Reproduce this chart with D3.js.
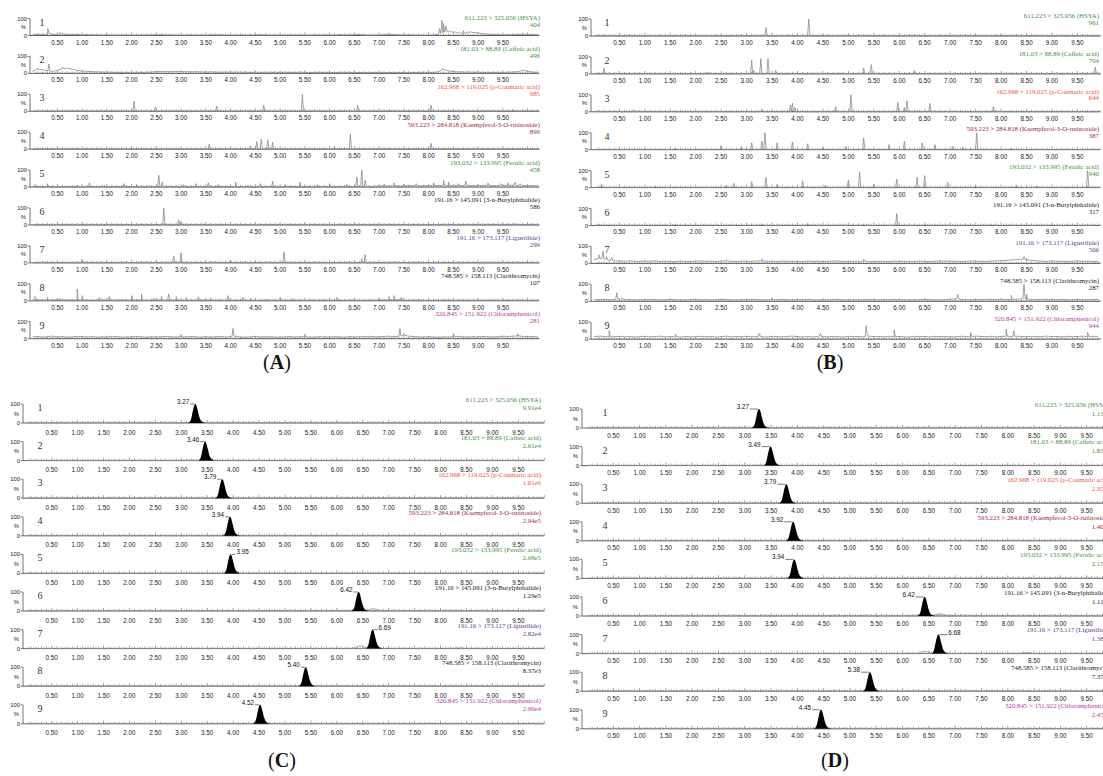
<!DOCTYPE html>
<html><head><meta charset="utf-8">
<script src="https://cdn.jsdelivr.net/npm/d3@7"></script>
<style>body{margin:0;background:#fff;}svg{display:block}</style>
</head><body>
<svg id="c" width="1103" height="776"></svg>
<script>
// ---------------- DATA ----------------
const tickLabels = ["0.50","1.00","1.50","2.00","2.50","3.00","3.50","4.00","4.50","5.00","5.50","6.00","6.50","7.00","7.50","8.00","8.50","9.00","9.50"];
const compoundLabels = [
  "611.223 > 325.056 (HSYA)",
  "181.03 > 88.89 (Caffeic acid)",
  "162.968 > 119.025 (p-Coumaric acid)",
  "593.223 > 284.818 (Kaempferol-3-O-rutinoside)",
  "193.032 > 133.995 (Ferulic acid)",
  "191.16 > 145.091 (3-n-Butylphthalide)",
  "191.16 > 173.117 (Ligustilide)",
  "748.585 > 158.113 (Clarithromycin)",
  "320.845 > 151.922 (Chloramphenicol)"
];
const rowNumbers = ["1","2","3","4","5","6","7","8","9"];
const intensityA = ["404","496","985","899","458","586","299","107","281"];
const intensityB = ["961","704","644","387","940","317","506","287","944"];
const intensityC = ["9.91e4","2.61e4","1.01e6","2.94e5","2.68e5","1.29e5","2.82e4","8.37e3","2.99e4"];
const intensityD = ["1.13e4","1.83e4","2.35e5","1.40e5","2.15e5","1.11e5","1.38e4","7.37e3","2.45e4"];

// spikes: [retention time (min), relative intensity (%)]
const spikesA = [
  [[0.31,40],[0.36,15],[0.55,18],[2.45,6],[6.5,8],[7.15,12],[7.2,15],[8.22,40],[8.27,90],[8.3,70],[8.35,55],[8.42,30],[8.55,22],[8.62,20],[8.7,28],[8.78,22],[8.85,25],[9.8,8],[9.9,10]],
  [[0.1,30],[0.33,55],[0.6,35],[8.28,30],[9.88,20]],
  [[0.1,3],[0.8,3],[2.05,60],[2.48,25],[3.72,30],[4.67,35],[5.45,100],[6.57,35],[7.2,8],[7.22,6],[8.05,35],[9.7,10]],
  [[0.5,3],[2.6,4],[3.57,30],[4.4,20],[4.53,45],[4.62,60],[4.75,55],[4.85,40],[5.05,5],[6.1,15],[6.42,90],[7.2,5],[8.05,35],[9.2,5]],
  [[0.05,15],[0.3,20],[0.5,8],[0.9,12],[1.15,25],[1.45,10],[1.85,20],[2.1,15],[2.35,10],[2.55,70],[2.62,30],[3.05,15],[3.3,20],[3.55,25],[3.75,15],[4.1,30],[4.35,12],[4.6,20],[4.85,35],[5.1,15],[5.4,30],[5.75,15],[6.0,20],[6.35,15],[6.55,60],[6.65,100],[6.72,40],[7.1,20],[7.3,25],[7.5,15],[7.75,20],[8.1,25],[8.3,40],[8.4,30],[8.6,20],[8.75,35],[9.0,15],[9.2,25],[9.45,20],[9.6,25],[9.75,30],[9.85,20]],
  [[0.3,3],[1.2,4],[2.65,100],[2.95,30],[3.0,20],[4.5,4],[5.1,3],[6.7,3],[9.6,8],[9.75,10]],
  [[0.2,5],[1.0,20],[1.9,8],[2.5,10],[2.85,40],[3.0,60],[3.7,6],[4.0,15],[4.8,5],[5.08,65],[6.65,25],[6.72,50],[7.3,6],[8.2,5],[9.5,6]],
  [[0.05,25],[0.3,20],[0.55,15],[0.9,70],[1.0,30],[1.35,20],[1.55,25],[2.0,30],[2.2,40],[2.45,15],[2.6,25],[2.75,40],[2.9,25],[3.1,20],[3.35,25],[3.6,15],[3.95,30],[4.25,20],[4.4,15],[4.75,10],[5.0,20],[5.25,15],[5.6,10],[6.15,20],[6.5,10],[7.0,15],[7.2,25],[7.3,30],[7.45,20],[7.8,10],[8.3,10],[9.0,8],[9.5,8]],
  [[3.0,25],[4.05,60],[5.5,25],[7.42,60],[7.5,30],[8.5,30],[9.8,30]]
];
// baseline noise (%), sampled every 0.1 min from 0.0
const noiseA = [
  [6,8,5,9,7,6,10,6,5,7,4,5,3,3,2,3,2,2,2,3,2,2,2,3,3,4,5,3,3,2,2,2,3,2,2,2,3,4,3,2,2,2,3,2,2,3,4,3,2,2,2,2,3,2,3,2,2,3,2,3,3,2,4,3,3,5,6,3,2,2,3,4,6,5,3,3,4,2,2,2,2,3,8,20,25,20,15,12,14,18,15,10,8,6,5,4,4,5,6,8,6,5,4],
  [12,25,22,15,12,18,28,30,25,18,14,12,10,9,8,7,7,6,6,6,6,7,6,7,8,10,12,11,10,12,11,10,9,10,9,8,9,8,7,8,7,8,7,7,6,7,6,7,6,7,6,7,6,6,7,6,5,6,7,6,6,5,6,7,6,6,5,6,6,5,6,6,5,6,5,6,6,5,6,7,6,6,10,22,15,10,9,8,8,7,7,6,6,6,6,6,7,8,10,18,12,8,6],
  null,
  null,
  [4,3,2,3,2,3,2,2,3,2,2,3,2,2,3,2,2,3,2,2,3,2,2,3,2,2,3,2,3,2,2,3,2,2,3,2,2,3,2,2,3,2,3,2,2,3,2,2,3,2,2,3,2,3,2,2,3,2,2,3,2,3,2,2,3,2,3,2,2,3,6,8,5,9,7,6,10,8,6,9,7,10,8,12,9,7,11,8,10,9,7,10,12,8,9,11,10,12,9,10,8,9,7],
  null,
  null,
  [6,5,4,5,4,6,5,4,5,4,5,4,3,4,5,4,3,4,5,4,4,5,4,3,4,5,4,3,4,5,4,3,4,3,4,5,4,3,4,3,4,3,4,3,4,3,3,4,3,4,3,4,3,3,4,3,4,3,3,4,3,3,4,3,3,4,3,3,4,3,4,5,4,6,5,4,3,3,4,3,3,4,3,3,4,3,3,4,3,3,4,3,3,4,3,3,4,3,3,4,3,3,4],
  [10,14,9,12,15,10,13,9,11,14,12,10,13,9,11,10,14,12,9,11,10,13,11,9,12,10,12,14,11,10,12,10,13,11,9,12,10,11,13,10,12,14,10,9,11,13,10,12,11,10,9,11,13,10,12,11,9,10,12,11,10,12,11,9,13,10,12,11,14,12,11,13,15,12,14,20,15,12,11,10,12,10,9,11,10,12,14,11,10,12,11,13,12,10,12,14,13,15,16,14,12,13,11]
];
const spikesB = [
  [[0.1,6],[3.38,50],[3.85,6],[4.22,100],[7.05,4],[8.3,8]],
  [[0.2,35],[2.2,8],[2.25,10],[3.1,80],[3.14,20],[3.28,90],[3.42,90],[3.57,20],[5.0,5],[5.3,35],[5.45,55],[6.3,20],[9.85,40]],
  [[0.05,5],[0.5,4],[0.78,12],[3.3,15],[3.86,40],[3.9,50],[3.95,25],[4.75,30],[5.05,100],[5.97,55],[6.1,25],[6.15,65],[6.35,8],[6.6,50],[7.85,30],[8.6,5]],
  [[1.6,10],[2.5,25],[2.9,20],[3.1,40],[3.3,50],[3.36,100],[3.6,40],[3.9,45],[4.2,35],[4.5,15],[4.95,20],[5.3,70],[5.8,30],[6.1,50],[6.45,40],[6.7,30],[7.05,20],[7.25,15],[7.52,100],[8.2,10]],
  [[0.15,20],[1.2,8],[2.6,15],[2.75,25],[3.1,35],[3.38,60],[3.6,20],[4.1,40],[4.55,15],[5.0,45],[5.22,90],[5.5,20],[5.95,50],[6.35,60],[6.5,70],[6.95,30],[7.5,10],[8.3,15],[8.7,10],[9.7,100]],
  [[0.1,5],[1.6,8],[3.3,10],[4.2,12],[5.3,8],[5.95,70],[6.5,8],[7.8,5],[9.0,5]],
  [[0.1,50],[0.18,70],[0.25,40],[0.35,35],[2.6,20],[3.3,25],[5.3,25],[6.8,20],[8.45,40],[8.5,30]],
  [[0.45,50],[0.55,20],[3.5,20],[4.8,15],[7.15,40],[8.2,35],[8.45,100],[8.5,40]],
  [[0.3,50],[1.6,30],[3.25,35],[4.45,35],[5.35,80],[5.9,55],[7.4,40],[8.1,60],[8.25,50],[9.7,40]]
];
const noiseB = [
  null, null, null, null, null, null,
  [20,30,25,18,15,14,12,16,13,11,14,12,15,11,13,12,10,14,12,11,13,15,12,14,11,13,16,12,11,14,13,12,15,14,12,13,11,14,12,13,12,11,14,12,13,11,12,14,13,12,11,13,12,14,12,11,13,12,11,14,12,13,11,12,14,12,11,13,12,14,12,13,11,12,14,12,13,11,14,15,16,18,20,22,25,20,18,15,13,12,14,12,13,11,12,14,12,13,11,12],
  [8,10,12,9,11,10,9,11,8,10,9,11,10,8,9,11,10,9,8,10,11,9,10,8,9,11,10,9,8,10,9,11,10,9,8,10,9,11,10,8,9,10,11,9,8,10,9,11,10,9,8,10,9,10,11,9,8,10,9,11,10,9,8,10,9,11,10,9,8,10,12,14,11,10,9,11,10,12,11,10,12,11,10,12,14,12,11,10,12,11,10,9,11,10,9,11,10,9,11,10],
  [14,18,16,13,15,17,14,16,13,15,17,14,16,18,14,15,17,13,16,14,15,17,14,16,13,15,18,14,16,15,17,14,16,15,13,17,15,14,16,18,15,14,16,13,17,15,14,16,15,13,17,15,16,14,18,15,16,14,17,15,16,14,13,17,15,16,14,17,15,16,14,15,17,16,14,18,16,15,17,14,16,18,15,17,16,14,17,15,16,18,15,16,14,17,15,16,18,15,17,16]
];
// LC-MS/MS peaks of the standards (retention time, min)
const peakRtC = [3.27,3.46,3.79,3.94,3.95,6.42,6.69,5.40,4.52];
const peakRtD = [3.27,3.49,3.79,3.92,3.94,6.42,6.68,5.38,4.45];
// small unresolved humps [rt, %]
const humpsC = [[],[[3.2,2]],[],[],[],[[6.7,12]],[[6.45,14],[8.35,3]],[],[]];
const humpsD = [[],[[3.3,2]],[],[],[],[[6.7,12]],[[6.42,12],[8.35,5]],[],[]];
// shape of a chromatographic peak: [offset (min), fraction of apex]
const peakProfile = [[-0.15,0],[-0.11,0.05],[-0.08,0.22],[-0.05,0.6],[-0.02,0.93],[0,1],[0.02,0.93],[0.05,0.62],[0.08,0.3],[0.11,0.12],[0.15,0.04],[0.2,0]];

// ---------------- STYLE / LAYOUT ----------------
const labelColors = ["#3f8f3f","#3f8f3f","#ef5248","#a3283a","#3f8f3f","#222222","#5e3d8e","#222222","#b4399e"];
const serif = "'Liberation Serif','Times New Roman',serif";
const sans = "'Liberation Sans',Arial,sans-serif";
const layouts = {
  A:{x0:32.6,ppu:49.5,tMax:10.24,yAxisX:30,base0:35.5,pitch:37.9,h:17,labelRight:540,numX:42,tickDy:9,labelDy:-22.6,intDy:-15.6,firstShift:7,letterX:277,letterY:369,lead:5},
  B:{x0:593.9,ppu:50.9,tMax:9.95,yAxisX:591,base0:36,pitch:37.9,h:17,labelRight:1099,numX:607,tickDy:8.9,labelDy:-18.3,intDy:-11.4,firstShift:0,letterX:830,letterY:369,lead:5},
  C:{x0:25.8,ppu:51.84,tMax:10.0,yAxisX:23,base0:423,pitch:37.6,h:19,labelRight:541,numX:40,tickDy:11.5,labelDy:-21.1,intDy:-13.1,firstShift:0,letterX:282,letterY:767,lead:5},
  D:{x0:587,ppu:52.6,tMax:10.2,yAxisX:582,base0:428,pitch:37.6,h:19,labelRight:1110,numX:605,tickDy:9.6,labelDy:-21.3,intDy:-12.3,firstShift:0,letterX:835,letterY:767,lead:9}
};
const peakLabelSideC = ["l","l","l","l","r","l","r","l","l"];
const peakLabelSideD = ["l","l","l","l","l","l","r","l","l"];

const svg = d3.select("#c");

function drawFrame(g, L, x, y, base, i, intensityText) {
  const x1 = x.range()[1];
  g.append("line").attr("x1",L.yAxisX).attr("x2",x1).attr("y1",base).attr("y2",base)
    .attr("stroke","#3a3a3a").attr("stroke-width",0.8);
  const minor = d3.range(1, Math.floor(L.tMax*20)+1).map(k=>k/20);
  g.append("g").selectAll("line").data(minor).join("line")
    .attr("x1",d=>x(d)).attr("x2",d=>x(d)).attr("y1",base)
    .attr("y2",d=>base - (Math.abs(d*2-Math.round(d*2))<1e-6 ? 3 : (Math.abs(d*10-Math.round(d*10))<1e-6 ? 2 : 1.3)))
    .attr("stroke","#3a3a3a").attr("stroke-width",0.5);
  g.append("g").selectAll("text").data(tickLabels).join("text")
    .attr("x",d=>x(+d)).attr("y",base+L.tickDy).attr("text-anchor","middle")
    .attr("font-family",sans).attr("font-size",6.3).attr("fill","#222").text(d=>d);
  g.append("line").attr("x1",L.yAxisX).attr("x2",L.yAxisX).attr("y1",base).attr("y2",y(100))
    .attr("stroke","#3a3a3a").attr("stroke-width",0.7);
  [0,100].forEach(v=>g.append("line").attr("x1",L.yAxisX-2.5).attr("x2",L.yAxisX).attr("y1",y(v)).attr("y2",y(v))
    .attr("stroke","#3a3a3a").attr("stroke-width",0.6));
  g.append("text").attr("x",L.yAxisX-3).attr("y",y(100)+2).attr("text-anchor","end")
    .attr("font-family",sans).attr("font-size",5.8).attr("fill","#222").text("100");
  g.append("text").attr("x",L.yAxisX-4).attr("y",y(50)+2).attr("text-anchor","end")
    .attr("font-family",sans).attr("font-size",5.8).attr("fill","#222").text("%");
  g.append("text").attr("x",L.yAxisX-3).attr("y",y(0)+2).attr("text-anchor","end")
    .attr("font-family",sans).attr("font-size",5.8).attr("fill","#222").text("0");
  g.append("text").attr("x",L.numX).attr("y",y(100)+7).attr("text-anchor","middle")
    .attr("font-family",serif).attr("font-size",10).attr("fill","#333").text(rowNumbers[i]);
  const shift = i===0 ? L.firstShift : 0;
  g.append("text").attr("x",L.labelRight).attr("y",base+L.labelDy+shift).attr("text-anchor","end")
    .attr("font-family",serif).attr("font-size",6.8).attr("fill",labelColors[i]).text(compoundLabels[i]);
  g.append("text").attr("x",L.labelRight).attr("y",base+L.intDy+shift).attr("text-anchor","end")
    .attr("font-family",serif).attr("font-size",6.8).attr("fill",labelColors[i]).text(intensityText);
}

function drawLetter(L, key) {
  svg.append("text").attr("x",L.letterX).attr("y",L.letterY).attr("text-anchor","middle")
    .attr("font-family",serif).attr("font-size",20).attr("fill","#111")
    .html(`(<tspan font-weight="bold">${key}</tspan>)`);
}

function drawNoisePanel(key, spikes, noise, intensity) {
  const L = layouts[key];
  const g = svg.append("g");
  const x = d3.scaleLinear().domain([0,L.tMax]).range([L.x0, L.x0+L.tMax*L.ppu]);
  for (let i=0;i<9;i++) {
    const base = L.base0 + i*L.pitch;
    const y = d3.scaleLinear().domain([0,100]).range([base, base-L.h]);
    const rg = g.append("g");
    drawFrame(rg, L, x, y, base, i, intensity[i]);
    const nz = noise[i];
    const baseAt = t => {
      if (!nz) return 1;
      const k = t*10, k0 = Math.max(0, Math.min(nz.length-1, Math.floor(k)));
      const v0 = nz[k0], v1 = nz[Math.min(nz.length-1, k0+1)];
      return v0 + (v1-v0)*(k-k0);
    };
    let pts = nz ? nz.map((v,k)=>[k/10, v]).filter(p=>p[0]<=L.tMax) : [[0,1],[L.tMax,1]];
    spikes[i].forEach(([t,h])=>{ pts.push([t-0.022,baseAt(t-0.022)],[t,h],[t+0.022,baseAt(t+0.022)]); });
    pts.sort((a,b)=>a[0]-b[0]);
    const line = d3.line().x(d=>x(d[0])).y(d=>y(d[1]));
    rg.append("path").attr("d",line(pts)).attr("fill","none")
      .attr("stroke","#8a8a8a").attr("stroke-width",0.8);
  }
  drawLetter(L, key);
}

function drawPeakPanel(key, rts, humps, intensity, sides) {
  const L = layouts[key];
  const g = svg.append("g");
  const x = d3.scaleLinear().domain([0,L.tMax]).range([L.x0, L.x0+L.tMax*L.ppu]);
  for (let i=0;i<9;i++) {
    const base = L.base0 + i*L.pitch;
    const y = d3.scaleLinear().domain([0,100]).range([base, base-L.h]);
    const rg = g.append("g");
    drawFrame(rg, L, x, y, base, i, intensity[i]);
    rg.append("line").attr("x1",x(0)).attr("x2",x(L.tMax)).attr("y1",y(0.6)).attr("y2",y(0.6))
      .attr("stroke","#9a9a9a").attr("stroke-width",0.6);
    humps[i].forEach(([t,h])=>{
      const pts = peakProfile.map(([o,f])=>[t+o*1.5, h*f]);
      rg.append("path").attr("d",d3.line().curve(d3.curveMonotoneX).x(d=>x(d[0])).y(d=>y(d[1]))(pts))
        .attr("fill","none").attr("stroke","#8a8a8a").attr("stroke-width",0.7);
    });
    const rt = rts[i];
    const pts = peakProfile.map(([o,f])=>[rt+o, 100*f]);
    const area = d3.area().curve(d3.curveMonotoneX).x(d=>x(d[0])).y0(base).y1(d=>y(d[1]));
    rg.append("path").attr("d",area(pts)).attr("fill","#000");
    const ax = x(rt), top = y(100);
    const left = sides[i]==="l";
    rg.append("line").attr("x1",left?ax-L.lead:ax+1).attr("x2",left?ax-1:ax+L.lead).attr("y1",top).attr("y2",top)
      .attr("stroke","#222").attr("stroke-width",0.6);
    rg.append("text").attr("x",left?ax-L.lead-1:ax+L.lead+1).attr("y",top)
      .attr("text-anchor",left?"end":"start").attr("font-family",sans).attr("font-size",6.3)
      .attr("fill","#111").text(rt.toFixed(2));
  }
  drawLetter(L, key);
}

drawNoisePanel("A", spikesA, noiseA, intensityA);
drawNoisePanel("B", spikesB, noiseB, intensityB);
drawPeakPanel("C", peakRtC, humpsC, intensityC, peakLabelSideC);
drawPeakPanel("D", peakRtD, humpsD, intensityD, peakLabelSideD);
</script>
</body></html>
